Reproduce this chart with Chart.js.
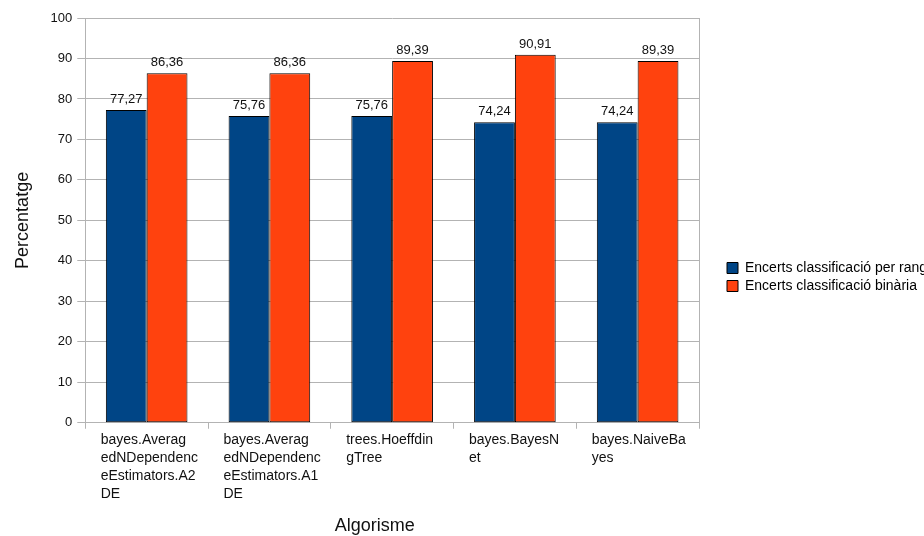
<!DOCTYPE html>
<html><head><meta charset="utf-8">
<script src="https://cdn.jsdelivr.net/npm/chart.js@4/dist/chart.umd.min.js"></script>
<style>html,body{margin:0;padding:0;background:#fff}#wrap{width:924px;height:536px}</style>
</head><body><div id="wrap"><canvas id="c" width="924" height="536"></canvas></div>
<script>
const categories = [
  ["bayes.Averag","edNDependenc","eEstimators.A2","DE"],
  ["bayes.Averag","edNDependenc","eEstimators.A1","DE"],
  ["trees.Hoeffdin","gTree"],
  ["bayes.BayesN","et"],
  ["bayes.NaiveBa","yes"]
];
const seriesNames = ["Encerts classificació per rang","Encerts classificació binària"];
const rangValues = [77.27, 75.76, 75.76, 74.24, 74.24];
const binariaValues = [86.36, 86.36, 89.39, 90.91, 89.39];
const yTicks = [0,10,20,30,40,50,60,70,80,90,100];

const FONT = "'Liberation Sans', Arial, sans-serif";
const GRID = '#b3b3b3';

const valueLabels = {
  id: 'valueLabels',
  afterDatasetsDraw(chart) {
    const ctx = chart.ctx;
    ctx.save();
    ctx.font = '13px ' + FONT;
    ctx.fillStyle = '#111';
    ctx.textAlign = 'center';
    ctx.textBaseline = 'bottom';
    chart.data.datasets.forEach((ds, i) => {
      chart.getDatasetMeta(i).data.forEach((el, j) => {
        ctx.fillText(ds.data[j].toFixed(2).replace('.', ','), el.x, el.y - 4);
      });
    });
    ctx.restore();
  }
};

// fixed legend width (text is allowed to run off the canvas edge, as in the original)
const legendWidth = {
  id: 'legendWidth',
  beforeLayout(chart) {
    const lg = chart.legend;
    if (lg && !lg._fixedWidth) {
      const orig = lg.fit.bind(lg);
      lg.fit = function () { orig(); this.width = 201; };
      lg._fixedWidth = true;
    }
  }
};

new Chart(document.getElementById('c'), {
  type: 'bar',
  data: {
    labels: categories,
    datasets: [
      { label: seriesNames[0], data: rangValues, backgroundColor: '#004586', borderColor: '#000', borderWidth: 1, borderSkipped: false },
      { label: seriesNames[1], data: binariaValues, backgroundColor: '#ff420e', borderColor: '#000', borderWidth: 1, borderSkipped: false }
    ]
  },
  options: {
    responsive: false,
    animation: false,
    devicePixelRatio: 1,
    layout: { padding: { top: 18, left: 12, right: 0, bottom: 0 } },
    datasets: { bar: { categoryPercentage: 0.665, barPercentage: 1.0 } },
    plugins: {
      legend: {
        position: 'right',
        align: 'center',
        labels: {
          boxWidth: 11, boxHeight: 11, padding: 4,
          color: '#111',
          font: { family: FONT, size: 14 },
          generateLabels(chart) {
            return chart.data.datasets.map((ds, i) => ({
              text: ds.label, fillStyle: ds.backgroundColor, strokeStyle: '#000', lineWidth: 1, datasetIndex: i, hidden: false
            }));
          }
        }
      },
      tooltip: { enabled: false }
    },
    scales: {
      x: {
        offset: true,
        grid: {
          offset: true,
          drawOnChartArea: true,
          color: ctx => ctx.type === 'scale' ? GRID : 'rgba(0,0,0,0)',
          tickColor: GRID,
          tickLength: 6
        },
        border: { color: GRID },
        ticks: {
          align: 'start',
          labelOffset: -46,
          color: '#111',
          padding: 2,
          font: { family: FONT, size: 14, lineHeight: 1.29 },
          maxRotation: 0, autoSkip: false
        },
        title: { display: true, text: 'Algorisme' + '       ', color: '#111', font: { family: FONT, size: 18, lineHeight: 1.0 }, padding: { top: 12, bottom: 1 } }
      },
      y: {
        min: 0, max: 100,
        afterBuildTicks(scale) { scale.ticks = yTicks.map(v => ({ value: v })); },
        grid: { color: GRID, tickColor: GRID, tickLength: 8 },
        border: { color: GRID },
        ticks: { color: '#111', padding: 5, font: { family: FONT, size: 13 } },
        title: { display: true, text: 'Percentatge', color: '#111', font: { family: FONT, size: 18 }, padding: { top: 0, bottom: 12 } }
      },
      yRight: {
        position: 'right',
        min: 0, max: 100,
        grid: { display: false },
        border: { display: false },
        ticks: { display: false },
        afterFit(scale) { scale.width = 24; }
      }
    }
  },
  plugins: [valueLabels, legendWidth]
});
</script></body></html>
